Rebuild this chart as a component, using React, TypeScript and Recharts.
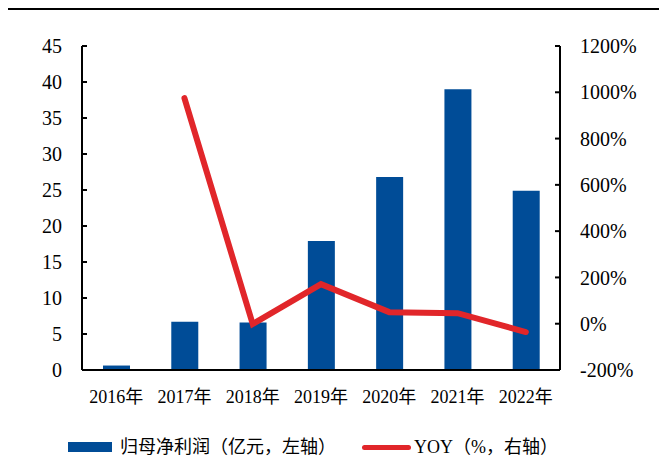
import { Bar, ComposedChart, Line, XAxis, YAxis } from "recharts"

const years = ["2016年", "2017年", "2018年", "2019年", "2020年", "2021年", "2022年"]
// 归母净利润, 亿元
const netProfit = [0.62, 6.7, 6.6, 17.9, 26.8, 39.0, 24.9]
// 同比, %
const yoy = [null, 975, -1.5, 171, 50, 45.5, -36]

const leftTicks = [0, 5, 10, 15, 20, 25, 30, 35, 40, 45]
const rightTicks = [-200, 0, 200, 400, 600, 800, 1000, 1200]

const BLUE = "#004C97"
const RED = "#E1262A"
const FONT = "'Liberation Serif', 'Times New Roman', 'Noto Sans CJK SC', serif"

const data = years.map((year, i) => ({
  year,
  profit: netProfit[i],
  yoy: yoy[i],
}))

function ChartLegend() {
  return (
    <div
      style={{
        position: "absolute",
        left: 0,
        top: 427,
        height: 20,
        lineHeight: "20px",
        display: "flex",
        alignItems: "center",
        fontFamily: FONT,
        fontSize: 18,
        color: "#000",
        whiteSpace: "nowrap",
      }}
    >
      <span style={{ display: "inline-block", width: 44, height: 10, background: BLUE, marginLeft: 60, marginRight: 8 }} />
      <span>归母净利润（亿元，左轴）</span>
      <span
        style={{
          display: "inline-block",
          width: 49,
          height: 5,
          borderRadius: 3,
          background: RED,
          marginLeft: 26,
          marginRight: 3,
        }}
      />
      <span>YOY（%，右轴）</span>
    </div>
  )
}

export default function App() {
  return (
    <div style={{ position: "relative", width: 659, height: 446, borderTop: "2px solid #000" }}>
      <ComposedChart
        width={659}
        height={446}
        data={data}
        margin={{ top: 36, right: 47, bottom: 56, left: 34 }}
      >
        <XAxis
          dataKey="year"
          tickLine={false}
          tickSize={0}
          tickMargin={20}
          axisLine={{ stroke: "#000", strokeWidth: 2 }}
          tick={{ fill: "#000", fontSize: 18, fontFamily: FONT }}
          interval={0}
          height={30}
        />
        <YAxis
          yAxisId="left"
          domain={[0, 45]}
          ticks={leftTicks}
          interval={0}
          width={40}
          tickSize={-5}
          tickMargin={25}
          axisLine={{ stroke: "#000", strokeWidth: 2 }}
          tickLine={{ stroke: "#000", strokeWidth: 2 }}
          tick={{ fill: "#000", fontSize: 20, fontFamily: FONT }}
        />
        <YAxis
          yAxisId="right"
          orientation="right"
          domain={[-200, 1200]}
          ticks={rightTicks}
          interval={0}
          width={60}
          tickSize={-5}
          tickMargin={25}
          tickFormatter={(v: number) => `${v}%`}
          axisLine={{ stroke: "#000", strokeWidth: 2 }}
          tickLine={{ stroke: "#000", strokeWidth: 2 }}
          tick={{ fill: "#000", fontSize: 20, fontFamily: FONT, textAnchor: "start" }}
        />
        <Bar yAxisId="left" dataKey="profit" fill={BLUE} barSize={27} isAnimationActive={false} />
        <Line
          yAxisId="right"
          dataKey="yoy"
          stroke={RED}
          strokeWidth={6}
          dot={false}
          activeDot={false}
          strokeLinecap="round"
          strokeLinejoin="miter"
          isAnimationActive={false}
        />
      </ComposedChart>
      <ChartLegend />
    </div>
  )
}
